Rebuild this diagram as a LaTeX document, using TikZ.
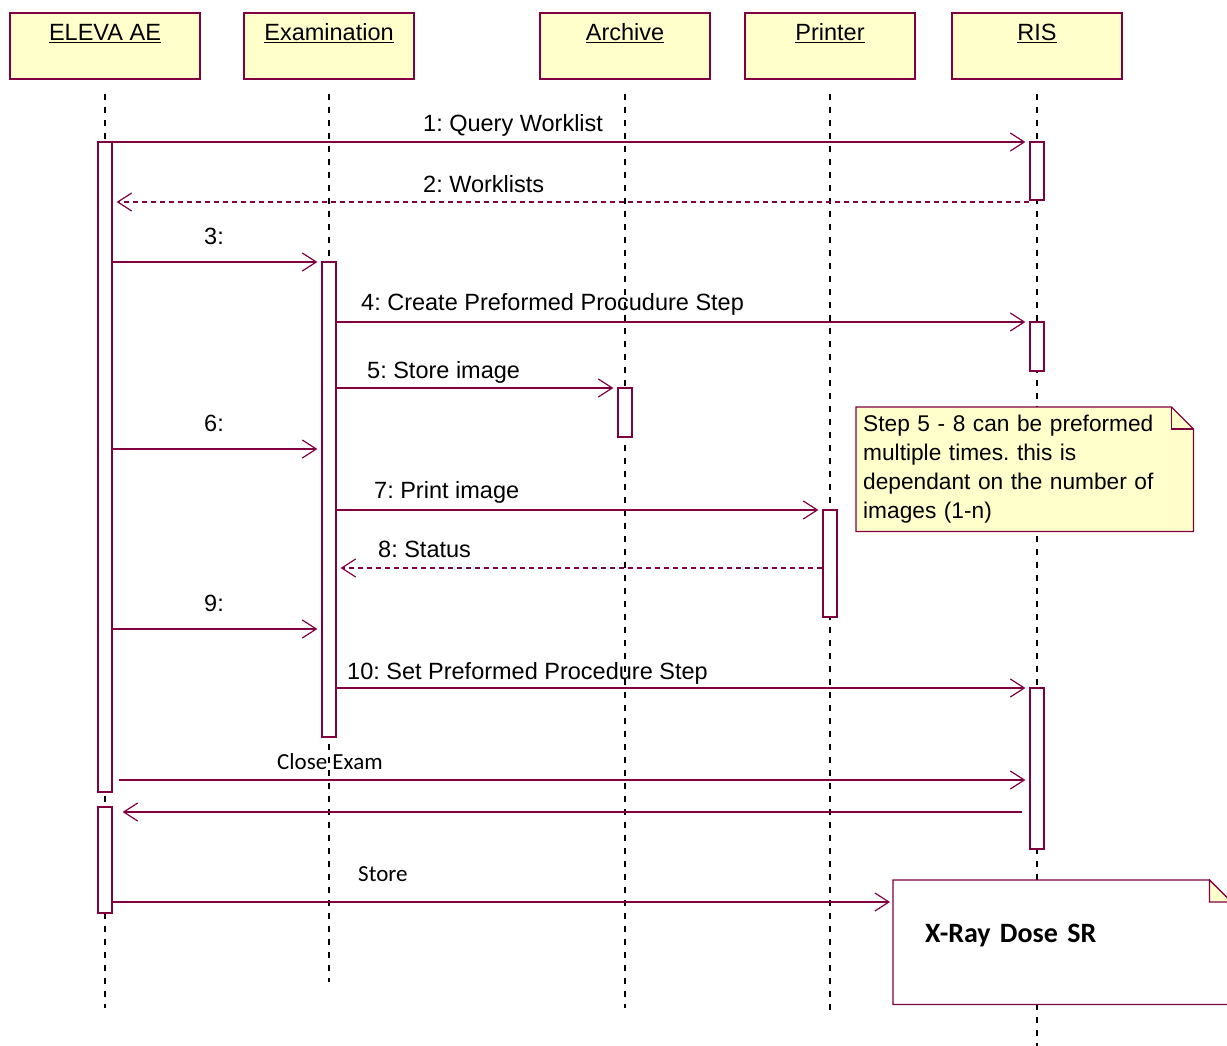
\documentclass[tikz,border=0pt]{standalone}
\usepackage{fontspec}
\setmainfont{Liberation Sans}
\newfontfamily\calibri{Carlito}
\usetikzlibrary{positioning, arrows.meta, calc, backgrounds}
\definecolor{umlred}{HTML}{800040}
\definecolor{umlyellow}{HTML}{FFFFCC}
\frenchspacing

\begin{document}
\begin{tikzpicture}[x=1pt, y=-1pt,
  head/.style={draw=umlred, line width=1.2pt, fill=umlyellow, minimum width=170pt,
               inner ysep=0pt, text height=28pt, text depth=38pt, font=\fontsize{23.5}{28}\selectfont},
  act/.style={draw=umlred, line width=1.2pt, fill=white, minimum width=14pt, inner sep=0pt},
  msg/.style={umlred, line width=1.2pt, shorten >=4pt, -{Straight Barb[length=14pt, width=18pt]}},
  reply/.style={msg, dash pattern=on 5pt off 4pt},
  lifeline/.style={black, line width=1.2pt, dash pattern=on 6pt off 7pt},
  lbl/.style={anchor=base west, inner sep=0pt, font=\fontsize{23.5}{28}\selectfont},
  clbl/.style={anchor=base west, inner sep=0pt, font=\calibri\fontsize{23}{28}\selectfont},
  notebox/.style={anchor=north west, minimum width=337pt, minimum height=124pt, inner xsep=7pt,
                  text width=323pt, align=left, font=\fontsize{22.7}{29}\selectfont},
  foldline/.style={draw=umlred, line width=1.2pt},
]
  \useasboundingbox (0,0) rectangle (1227,1046);

  % objects on top
  \node[head, minimum width=190pt] (ae) at (105,46) {\underline{ELEVA AE}};
  \node[head] (ex) at (329,46) {\underline{Examination}};
  \node[head] (ar) at (625,46) {\underline{Archive}};
  \node[head] (pr) at (830,46) {\underline{Printer}};
  \node[head] (ris) at (1037,46) {\underline{RIS}};

  % lifelines, behind everything
  \begin{scope}[on background layer]
    \foreach \n/\yend in {ae/1008, ex/982, ar/1008, pr/1010, ris/1046}
      \draw[lifeline] ([yshift=-14pt]\n.south) -- (\n.south |- 0,\yend);
  \end{scope}

  % activation bars
  \node[act, minimum height=650pt] (ae1) at (105,467) {};
  \node[act, minimum height=106pt] (ae2) at (105,860) {};
  \node[act, minimum height=475pt] (ex1) at (329,499.5) {};
  \node[act, minimum height=49pt] (ar1) at (625,412.5) {};
  \node[act, minimum height=107pt] (pr1) at (830,563.5) {};
  \node[act, minimum height=58pt] (ris1) at (1037,171) {};
  \node[act, minimum height=49pt] (ris2) at (1037,346.5) {};
  \node[act, minimum height=161pt] (ris3) at (1037,768.5) {};

  % messages
  \draw[msg] (ae1.east |- 0,142) -- (ris1.west |- 0,142);
  \node[lbl] (l1) at (423,132) {1: Query Worklist};
  \draw[reply] (ris1.west |- 0,202) -- (ae1.east |- 0,202);
  \node[lbl] (l2) at (423,193) {2: Worklists};
  \draw[msg] (ae1.east |- 0,262) -- (ex1.west |- 0,262);
  \node[lbl] (l3) at (204,244) {3:};
  \draw[msg] (ex1.east |- 0,322) -- (ris2.west |- 0,322);
  \node[lbl] (l4) at (361,310) {4: Create Preformed Procudure Step};
  \draw[msg] (ex1.east |- 0,388) -- (ar1.west |- 0,388);
  \node[lbl] (l5) at (367,378) {5: Store image};
  \draw[msg] (ae1.east |- 0,449) -- (ex1.west |- 0,449);
  \node[lbl] (l6) at (204,431) {6:};
  \draw[msg] (ex1.east |- 0,510) -- (pr1.west |- 0,510);
  \node[lbl] (l7) at (374,498) {7: Print image};
  \draw[reply] (pr1.west |- 0,568) -- (ex1.east |- 0,568);
  \node[lbl] (l8) at (378,557) {8: Status};
  \draw[msg] (ae1.east |- 0,629) -- (ex1.west |- 0,629);
  \node[lbl] (l9) at (204,611) {9:};
  \draw[msg] (ex1.east |- 0,688) -- (ris3.west |- 0,688);
  \node[lbl] (l10) at (347,679) {10: Set Preformed Procedure Step};
  \draw[msg] ([xshift=6pt]ae1.east |- 0,780) -- (ris3.west |- 0,780);
  \node[clbl] (lclose) at (277,769) {Close Exam};
  \draw[msg] ([xshift=-7pt]ris3.west |- 0,812) -- ([xshift=6pt]ae2.east |- 0,812);

  % note about the loop
  \node[notebox] (note) at (856,407) {Step 5 - 8 can be preformed\\multiple times. this is\\dependant on the number of\\images (1-n)};
  \begin{scope}[on background layer]
    \draw[foldline, fill=umlyellow] (note.north west) -- ([xshift=-22pt]note.north east)
      -- ([yshift=-22pt]note.north east) -- (note.south east) -- (note.south west) -- cycle;
  \end{scope}
  \draw[foldline] ([xshift=-22pt]note.north east) -- ([xshift=-22pt, yshift=-22pt]note.north east)
    -- ([yshift=-22pt]note.north east);

  % dose report
  \node[anchor=north west, minimum width=338pt, inner xsep=32pt, inner ysep=0pt, text height=62pt,
        text depth=62pt, text width=274pt, align=left, font=\calibri\bfseries\fontsize{28}{30}\selectfont]
        (dose) at (893,880) {X-Ray Dose SR};
  \begin{scope}[on background layer]
    \draw[foldline, fill=white] (dose.north west) -- ([xshift=-22pt]dose.north east)
      -- ([yshift=-22pt]dose.north east) -- (dose.south east) -- (dose.south west) -- cycle;
    \draw[foldline, fill=umlyellow] ([xshift=-22pt]dose.north east) -- ([xshift=-22pt, yshift=-22pt]dose.north east)
      -- ([yshift=-22pt]dose.north east) -- cycle;
  \end{scope}
  \draw[msg, shorten >=3pt] (ae2.east |- 0,902) -- (dose.west |- 0,902);
  \node[clbl] (lstore) at (358,881) {Store};
\end{tikzpicture}
\end{document}
